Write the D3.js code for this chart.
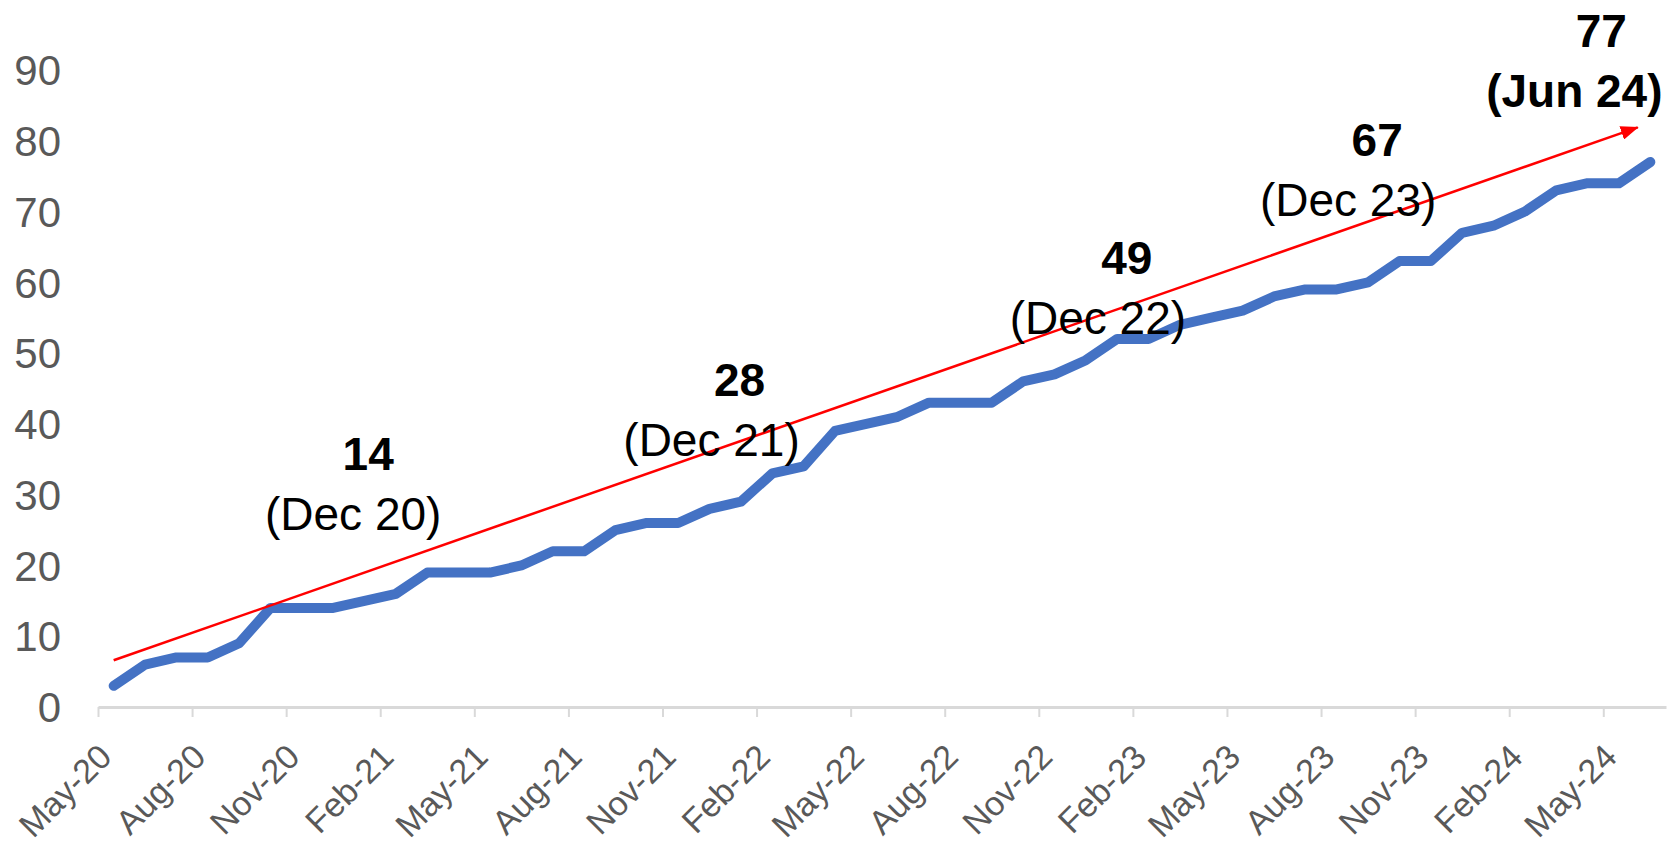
<!DOCTYPE html>
<html>
<head>
<meta charset="utf-8">
<script src="https://cdn.jsdelivr.net/npm/d3@7"></script>
<style>
  body { margin: 0; background: #fff; }
  svg { display: block; font-family: "Liberation Sans", Arial, sans-serif; }
</style>
</head>
<body>
<div id="chart"></div>
<script>
// monthly categories, May-20 .. Jun-24
const months = [
    "May-20", "Jun-20", "Jul-20", "Aug-20", "Sep-20", "Oct-20", "Nov-20", "Dec-20",
    "Jan-21", "Feb-21", "Mar-21", "Apr-21", "May-21", "Jun-21", "Jul-21", "Aug-21",
    "Sep-21", "Oct-21", "Nov-21", "Dec-21", "Jan-22", "Feb-22", "Mar-22", "Apr-22",
    "May-22", "Jun-22", "Jul-22", "Aug-22", "Sep-22", "Oct-22", "Nov-22", "Dec-22",
    "Jan-23", "Feb-23", "Mar-23", "Apr-23", "May-23", "Jun-23", "Jul-23", "Aug-23",
    "Sep-23", "Oct-23", "Nov-23", "Dec-23", "Jan-24", "Feb-24", "Mar-24", "Apr-24",
    "May-24", "Jun-24"
];
const values = [
    3, 6, 7, 7, 9, 14, 14, 14,
    15, 16, 19, 19, 19, 20, 22, 22,
    25, 26, 26, 28, 29, 33, 34, 39,
    40, 41, 43, 43, 43, 46, 47, 49,
    52, 52, 54, 55, 56, 58, 59, 59,
    60, 63, 63, 67, 68, 70, 73, 74,
    74, 77
];
const tickLabels = ["May-20", "Aug-20", "Nov-20", "Feb-21", "May-21", "Aug-21", "Nov-21",
    "Feb-22", "May-22", "Aug-22", "Nov-22", "Feb-23", "May-23", "Aug-23", "Nov-23",
    "Feb-24", "May-24"];
const yTicks = [0, 10, 20, 30, 40, 50, 60, 70, 80, 90];

// callouts
const calloutMonths = ["Dec-20", "Dec-21", "Dec-22", "Dec-23", "Jun-24"];
const calloutValues = [14, 28, 49, 67, 77];
const calloutDates = ["(Dec 20)", "(Dec 21)", "(Dec 22)", "(Dec 23)", "(Jun 24)"];

// trend arrow (month index, value)
const trendStart = [0, 6.6];
const trendEnd = [48.6, 81.9];

const WIDTH = 1671;
const HEIGHT = 850;
const LEFT = 98, RIGHT = 1666, TOP = 70, BOTTOM = 707;

const svg = d3.select("#chart").append("svg")
    .attr("width", WIDTH)
    .attr("height", HEIGHT);

// edges of the monthly slots
const xEdge = d3.scaleLinear().domain([0, months.length]).range([LEFT, RIGHT]);
const x = d3.scaleBand().domain(months).range([LEFT, RIGHT]).padding(0);
const y = d3.scaleLinear().domain([0, 90]).range([BOTTOM, TOP]);
const xMid = m => x(m) + x.bandwidth() / 2;

// y axis, labels only
const yAxis = svg.append("g")
    .attr("transform", "translate(61,0)")
    .call(d3.axisLeft(y).tickValues(yTicks).tickSize(0).tickPadding(0));
yAxis.select(".domain").remove();
yAxis.selectAll("text")
    .attr("fill", "#595959")
    .attr("dy", "0.35em")
    .style("font-size", "42px")
    .style("font-family", "'Liberation Sans', Arial, sans-serif");

// x axis, ticks on slot edges
const xAxis = svg.append("g")
    .attr("transform", "translate(0," + BOTTOM + ")")
    .call(d3.axisBottom(xEdge)
        .tickValues(tickLabels.map(t => months.indexOf(t)))
        .tickFormat(i => months[i])
        .tickSize(10)
        .tickSizeOuter(0));
xAxis.select(".domain").attr("stroke", "#d9d9d9").attr("stroke-width", 3);
xAxis.selectAll(".tick line").attr("stroke", "#d9d9d9").attr("stroke-width", 2);
xAxis.selectAll("text")
    .attr("y", 0)
    .attr("dy", 0)
    .attr("text-anchor", "end")
    .attr("transform", "translate(15,52) rotate(-45)")
    .attr("fill", "#595959")
    .style("font-size", "34px")
    .style("font-family", "'Liberation Sans', Arial, sans-serif");

// main line
const line = d3.line()
    .x((d, i) => xMid(months[i]))
    .y(d => y(d));

svg.append("path")
    .datum(values)
    .attr("d", line)
    .attr("fill", "none")
    .attr("stroke", "#4472C4")
    .attr("stroke-width", 10)
    .attr("stroke-linejoin", "round")
    .attr("stroke-linecap", "round");

// red trend arrow
svg.append("defs").append("marker")
    .attr("id", "arrow")
    .attr("markerUnits", "userSpaceOnUse")
    .attr("viewBox", "0 0 18 14")
    .attr("markerWidth", 18)
    .attr("markerHeight", 14)
    .attr("refX", 17)
    .attr("refY", 7)
    .attr("orient", "auto")
    .append("path")
    .attr("d", "M0,0L18,7L0,14Z")
    .attr("fill", "#ff0000");

svg.append("line")
    .attr("x1", xEdge(trendStart[0] + 0.5))
    .attr("y1", y(trendStart[1]))
    .attr("x2", xEdge(trendEnd[0] + 0.5))
    .attr("y2", y(trendEnd[1]))
    .attr("stroke", "#ff0000")
    .attr("stroke-width", 2.5)
    .attr("marker-end", "url(#arrow)");

// callout text, offset from the point it describes
const dateOffsets = [[20, -78], [2, -53], [12, -26], [-114, -17], [-76, -55]];
const numberShift = [15, 28, 29, 29, 27];

calloutMonths.forEach((m, k) => {
    const px = xMid(m);
    const py = y(values[months.indexOf(m)]);
    const dx = px + dateOffsets[k][0];
    const dy = py + dateOffsets[k][1];
    svg.append("text")
        .attr("x", dx + numberShift[k])
        .attr("y", dy - 60)
        .attr("text-anchor", "middle")
        .attr("font-size", 46)
        .attr("font-weight", "bold")
        .text(calloutValues[k]);
    svg.append("text")
        .attr("x", dx)
        .attr("y", dy)
        .attr("text-anchor", "middle")
        .attr("font-size", 46)
        .attr("font-weight", k == calloutMonths.length - 1 ? "bold" : "normal")
        .text(calloutDates[k]);
});
</script>
</body>
</html>
